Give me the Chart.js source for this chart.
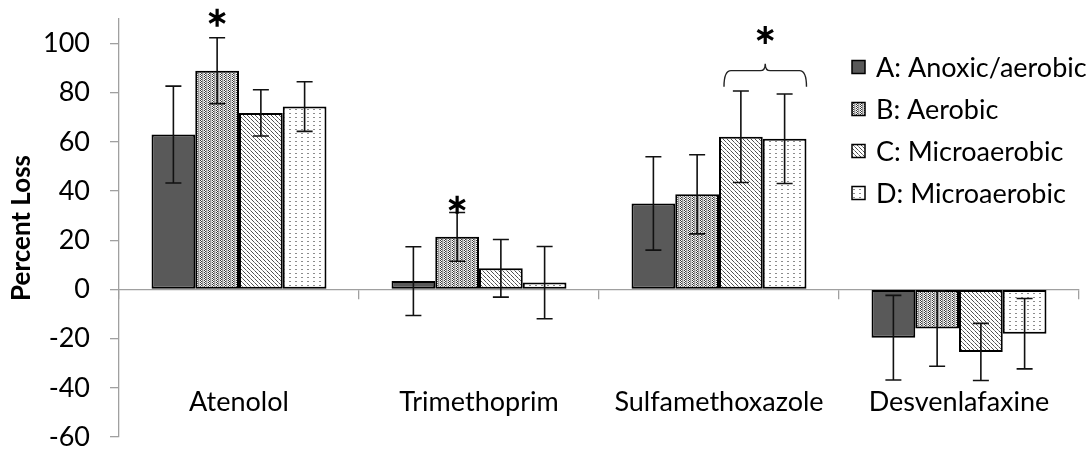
<!DOCTYPE html>
<html>
<head>
<meta charset="utf-8">
<script src="https://cdn.jsdelivr.net/npm/chart.js@4"></script>
<style>
  html, body { margin: 0; padding: 0; background: #fff; overflow: hidden; }
</style>
</head>
<body>
<canvas id="lossChart" width="1089" height="449"></canvas>
<script>
// categories and series
const categories = ["Atenolol", "Trimethoprim", "Sulfamethoxazole", "Desvenlafaxine"];
const seriesNames = ["A: Anoxic/aerobic", "B: Aerobic", "C: Microaerobic", "D: Microaerobic"];

// percent loss (bar heights)
const valuesA = [63.0, 3.4, 35.0, -19.6];
const valuesB = [89.0, 21.4, 38.7, -15.9];
const valuesC = [71.8, 8.6, 62.1, -25.4];
const valuesD = [74.4, 2.8, 61.3, -18.0];

// error bar half-widths
const errA = [19.7, 14.0, 19.0, 17.2];
const errB = [13.4, 9.9, 16.1, 15.3];
const errC = [9.4, 11.7, 18.6, 11.6];
const errD = [10.1, 14.7, 18.2, 14.3];

// y axis (labels every 20 from -60 to 100, line runs up to 110)
const yMin = -60, yMax = 110, yStep = 20;

// significance marks: category, series, value where the star sits
const starMarks = [
  { cat: 0, series: 1, value: 110.5 },
  { cat: 1, series: 1, value: 34.5 }
];
// brace over C and D in Sulfamethoxazole
const braceMarks = [
  { cat: 2, from: 2, to: 3, value: 89, star: 103.5 }
];

// patterns for the bars
function makePattern(rows) {
  const c = document.createElement("canvas");
  c.width = rows[0].length;
  c.height = rows.length;
  const g = c.getContext("2d");
  rows.forEach((row, y) => row.forEach((col, x) => {
    g.fillStyle = col;
    g.fillRect(x, y, 1, 1);
  }));
  return g.createPattern(c, "repeat");
}

const W = "#ffffff";
const fillA = "#595959";
const fillB = makePattern([
  ["#3a3a3a", W, "#9a9a9a", "#cfcfcf"],
  [W, "#3a3a3a", "#9a9a9a", "#cfcfcf"]
]);
const fillC = makePattern([
  ["#505050", W, W, W],
  [W, "#505050", W, W],
  [W, W, "#8a8a8a", W],
  [W, W, W, "#505050"]
]);
const fillD = makePattern([
  [W, W, W, W, W, W],
  [W, "#8c8c8c", "#8c8c8c", W, W, W],
  [W, W, W, W, W, W],
  [W, W, W, W, W, W]
]);

const fills = [fillA, fillB, fillC, fillD];
const allValues = [valuesA, valuesB, valuesC, valuesD];
const allErrors = [errA, errB, errC, errD];

const datasets = seriesNames.map((name, i) => ({
  label: name,
  data: allValues[i],
  errors: allErrors[i],
  backgroundColor: fills[i],
  borderColor: "#000",
  borderWidth: 2,
  borderSkipped: false,
  categoryPercentage: 0.729,
  barPercentage: 1.0
}));

// error bars drawn from the data through the y scale
const errorBars = {
  id: "errorBars",
  afterDatasetsDraw(chart) {
    const ctx = chart.ctx;
    const yScale = chart.scales.y;
    ctx.save();
    ctx.strokeStyle = "#111";
    ctx.lineWidth = 1.6;
    chart.data.datasets.forEach((ds, di) => {
      const meta = chart.getDatasetMeta(di);
      meta.data.forEach((bar, i) => {
        const v = ds.data[i], e = ds.errors[i];
        const yTop = yScale.getPixelForValue(v + e);
        const yBot = yScale.getPixelForValue(v - e);
        const x = bar.x;
        ctx.beginPath();
        ctx.moveTo(x, yTop); ctx.lineTo(x, yBot);
        ctx.moveTo(x - 8, yTop); ctx.lineTo(x + 8, yTop);
        ctx.moveTo(x - 8, yBot); ctx.lineTo(x + 8, yBot);
        ctx.stroke();
      });
    });
    ctx.restore();
  }
};

function drawStar(ctx, x, y) {
  const r = 9;
  ctx.save();
  ctx.strokeStyle = "#000";
  ctx.lineWidth = 3.2;
  ctx.beginPath();
  [90, 30, -30].forEach(a => {
    const t = a * Math.PI / 180;
    ctx.moveTo(x - r * Math.cos(t), y + r * Math.sin(t));
    ctx.lineTo(x + r * Math.cos(t), y - r * Math.sin(t));
  });
  ctx.stroke();
  ctx.restore();
}

// stars, brace and legend
const sigMarks = {
  id: "sigMarks",
  afterDraw(chart) {
    const ctx = chart.ctx;
    const yScale = chart.scales.y;
    starMarks.forEach(m => {
      const bar = chart.getDatasetMeta(m.series).data[m.cat];
      drawStar(ctx, bar.x, yScale.getPixelForValue(m.value));
    });
    braceMarks.forEach(m => {
      const b1 = chart.getDatasetMeta(m.from).data[m.cat];
      const b2 = chart.getDatasetMeta(m.to).data[m.cat];
      const x1 = b1.x - b1.width / 2 + 5;
      const x2 = b2.x + b2.width / 2;
      const mid = (x1 + x2) / 2;
      const yH = yScale.getPixelForValue(m.value);
      ctx.save();
      ctx.strokeStyle = "#222";
      ctx.lineWidth = 1.4;
      ctx.beginPath();
      ctx.moveTo(x1, yH + 16);
      ctx.quadraticCurveTo(x1, yH, x1 + 7, yH);
      ctx.lineTo(mid - 5, yH);
      ctx.quadraticCurveTo(mid, yH, mid, yH - 7);
      ctx.quadraticCurveTo(mid, yH, mid + 5, yH);
      ctx.lineTo(x2 - 7, yH);
      ctx.quadraticCurveTo(x2, yH, x2, yH + 16);
      ctx.stroke();
      ctx.restore();
      drawStar(ctx, mid, yScale.getPixelForValue(m.star));
    });

    // legend, top right over the plot
    ctx.save();
    ctx.font = '27px Lato';
    ctx.textBaseline = "middle";
    chart.data.datasets.forEach((ds, i) => {
      const y = 67 + i * 42;
      ctx.fillStyle = ds.backgroundColor;
      ctx.fillRect(852, y - 6.5, 13, 13);
      ctx.strokeStyle = "#000";
      ctx.lineWidth = 1.5;
      ctx.strokeRect(852, y - 6.5, 13, 13);
      ctx.fillStyle = "#000";
      ctx.fillText(ds.label, 876, y + 1);
    });
    ctx.restore();
  }
};

const config = {
  type: "bar",
  data: { labels: categories, datasets: datasets },
  options: {
    responsive: false,
    animation: false,
    layout: { padding: { top: 19, right: 10, bottom: 12, left: 0 } },
    plugins: {
      legend: { display: false },
      tooltip: { enabled: false }
    },
    scales: {
      x: {
        position: { y: 0 },
        afterFit(scale) { scale.paddingLeft = 0; scale.paddingRight = 0; },
        grid: {
          drawOnChartArea: false,
          tickLength: 9,
          color: "#a0a0a0",
          lineWidth: 1.3,
          offset: true
        },
        border: { color: "#a0a0a0", width: 1.3 },
        ticks: {
          color: "#000",
          padding: 88,
          font: { family: "Lato", size: 27 }
        }
      },
      y: {
        min: yMin,
        max: yMax,
        afterFit(scale) {
          scale.width = 119;
          scale.paddingTop = 0;
          scale.paddingBottom = 0;
        },
        grid: {
          drawOnChartArea: false,
          tickLength: 9,
          color: "#a0a0a0",
          lineWidth: 1.3
        },
        border: { color: "#a0a0a0", width: 1.3 },
        ticks: {
          stepSize: yStep,
          includeBounds: false,
          color: "#000",
          padding: 20,
          font: { family: "Lato", size: 27 }
        },
        title: {
          display: true,
          text: "Percent Loss",
          color: "#000",
          padding: { top: 6, bottom: 0 },
          font: { family: "Lato", size: 26, weight: "bold" }
        }
      }
    }
  },
  plugins: [errorBars, sigMarks]
};

const ctx = document.getElementById("lossChart").getContext("2d");
const lossChart = new Chart(ctx, config);
</script>
</body>
</html>
